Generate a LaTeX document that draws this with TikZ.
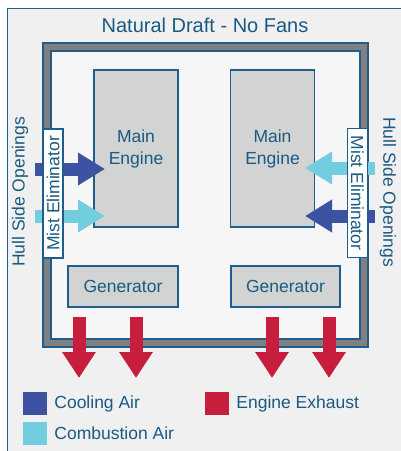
\documentclass[tikz,border=0pt]{standalone}
\usepackage{fontspec}
\setmainfont{Liberation Sans}
\usepackage{xcolor}
\usepackage{tikz}
\usetikzlibrary{arrows.meta,positioning}
\definecolor{txtblue}{RGB}{26,90,130}
\definecolor{lineblue}{RGB}{31,94,140}
\definecolor{coolblue}{RGB}{61,82,161}
\definecolor{combcyan}{RGB}{114,205,222}
\definecolor{exhred}{RGB}{200,30,62}
\definecolor{boxgrey}{RGB}{210,212,211}
\definecolor{hullgrey}{RGB}{128,128,128}
\definecolor{bggrey}{RGB}{240,240,240}
\definecolor{roomgrey}{RGB}{246,246,246}

\begin{document}
\begin{tikzpicture}[x=1pt, y=-1pt,
    engine/.style={rectangle, draw=lineblue, line width=1.2pt, fill=boxgrey,
                   text=txtblue, font=\fontsize{17.5}{22}\selectfont,
                   align=center, inner sep=0pt},
    mist/.style={rectangle, draw=lineblue, line width=1.2pt, fill=white,
                 text=txtblue, font=\fontsize{17.5}{21}\selectfont,
                 inner sep=0pt, minimum width=129pt, minimum height=20pt},
    hullside/.style={text=txtblue, font=\fontsize{17.5}{21}\selectfont, inner sep=0pt},
    flow/.style={line width=13pt, -{Triangle[length=27pt, width=31pt]}},
    exhaust/.style={line width=13pt, exhred, -{Triangle[length=26pt, width=32pt]}},
    legsq/.style={rectangle, minimum width=24pt, minimum height=23pt, inner sep=0pt},
    legtxt/.style={text=txtblue, font=\fontsize{17.5}{21}\selectfont, inner sep=0pt},
  ]
  \useasboundingbox (0,0) rectangle (401,451);
  \clip (0,0) rectangle (401,451);

  % Rahmen
  \fill[white] (0,0) rectangle (401,451);
  \draw[lineblue, line width=1pt, fill=bggrey] (7,8) rectangle (420,470);

  % Titel
  \node[text=txtblue, font=\fontsize{20}{24}\selectfont] (title) at (205,25)
    {Natural Draft - No Fans};

  % Rumpf
  \draw[lineblue, line width=1.2pt, fill=hullgrey] (43,43) rectangle (368,347);
  \draw[lineblue, line width=1.2pt, fill=roomgrey] (51,51) rectangle (360,339);

  % Hauptmaschinen
  \node[engine, minimum width=84pt, minimum height=157pt] (engL) at (136,148.5)
    {Main\\Engine};
  \node[engine, minimum width=84pt, minimum height=157pt] (engR) at (272.5,148.5)
    {Main\\Engine};

  % Generatoren
  \node[engine, minimum width=110pt, minimum height=41pt] (genL) at (123,286.5)
    {Generator};
  \node[engine, minimum width=109pt, minimum height=41pt] (genR) at (285.5,286.5)
    {Generator};

  % Luftstroeme
  \coordinate (coolLin) at (35,169);
  \coordinate (coolLtip) at (105,169);
  \coordinate (combLin) at (35,216);
  \coordinate (combLtip) at (105,216);
  \coordinate (combRin) at (375,168);
  \coordinate (combRtip) at (305,168);
  \coordinate (coolRin) at (375,216);
  \coordinate (coolRtip) at (305,216);

  \draw[flow, coolblue] (coolLin) -- (coolLtip);
  \draw[flow, combcyan] (combLin) -- (combLtip);
  \draw[flow, combcyan] (combRin) -- (combRtip);
  \draw[flow, coolblue] (coolRin) -- (coolRtip);

  % Abgas
  \coordinate (exh1) at (79,317);  \coordinate (exh1tip) at (79,378);
  \coordinate (exh2) at (136,317); \coordinate (exh2tip) at (136,378);
  \coordinate (exh3) at (272,317); \coordinate (exh3tip) at (272,378);
  \coordinate (exh4) at (329,317); \coordinate (exh4tip) at (329,378);

  \draw[exhaust] (exh1) -- (exh1tip);
  \draw[exhaust] (exh2) -- (exh2tip);
  \draw[exhaust] (exh3) -- (exh3tip);
  \draw[exhaust] (exh4) -- (exh4tip);

  % Tropfenabscheider
  \node[mist, rotate=90] (mistL) at (53,193.5) {Mist Eliminator};
  \node[mist, rotate=-90] (mistR) at (357.5,193) {Mist Eliminator};

  % Rumpfoeffnungen
  \node[hullside, rotate=90] (sideL) at (20,192) {Hull Side Openings};
  \node[hullside, rotate=-90] (sideR) at (388,192) {Hull Side Openings};

  % Legende
  \node[legsq, fill=coolblue] (sqcool) at (35,403.5) {};
  \node[legtxt, right=7pt of sqcool] (lbcool) {Cooling Air};
  \node[legsq, fill=combcyan] (sqcomb) at (35,433.5) {};
  \node[legtxt, right=7pt of sqcomb] (lbcomb) {Combustion Air};
  \node[legsq, fill=exhred] (sqexh) at (217,403.5) {};
  \node[legtxt, right=7pt of sqexh] (lbexh) {Engine Exhaust};
\end{tikzpicture}
\end{document}
